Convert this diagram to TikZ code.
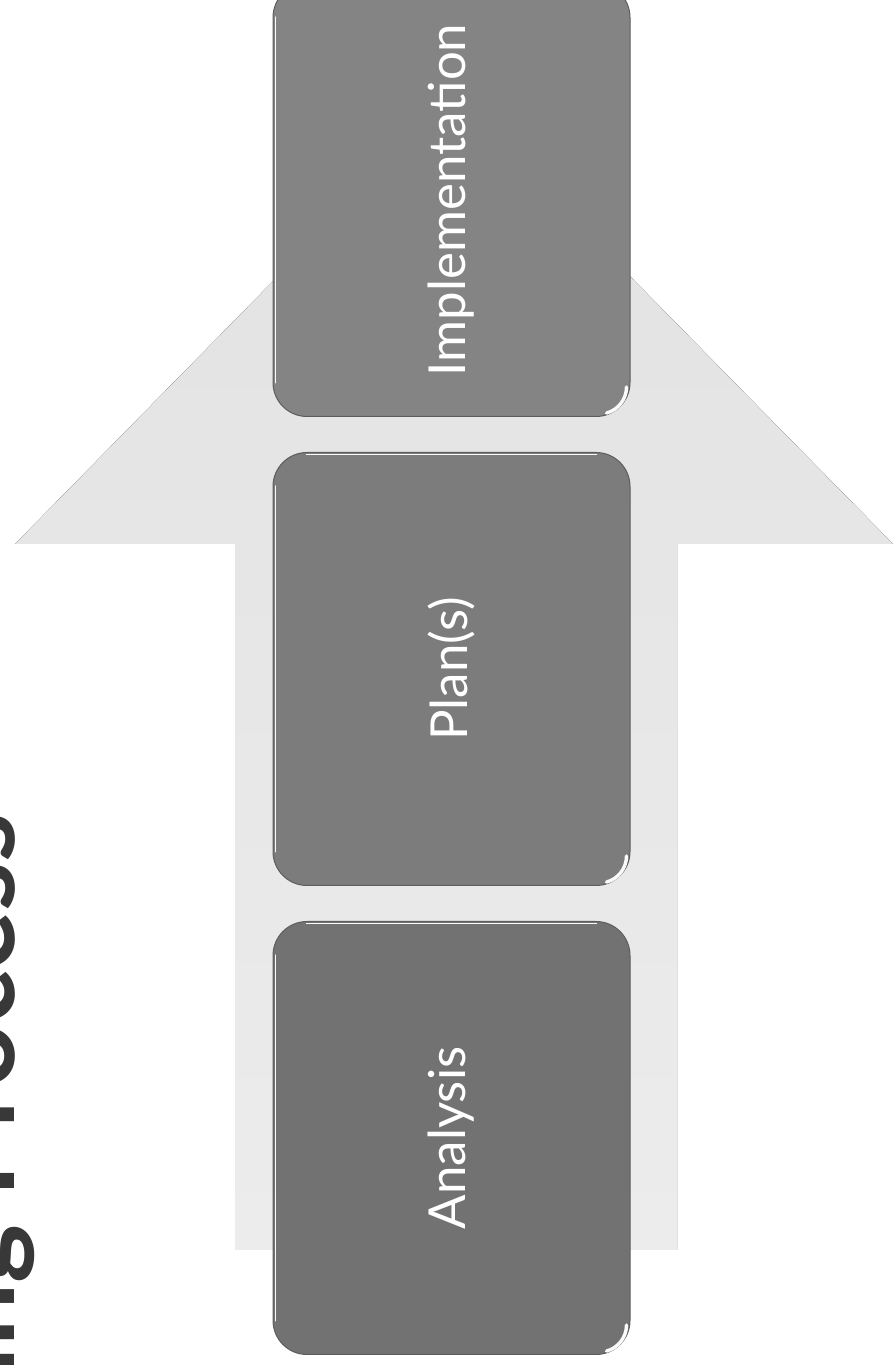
\documentclass[tikz,border=0pt]{standalone}
\usepackage{fontspec}
\setsansfont{Lato}
\usepackage{tikz}
\usetikzlibrary{positioning, calc}
\definecolor{boxgray}{RGB}{124, 124, 124}
\definecolor{arrowtop}{RGB}{226, 226, 226}
\definecolor{arrowbottom}{RGB}{236, 236, 236}
\definecolor{titlegray}{RGB}{56, 56, 56}
\definecolor{shinewhite}{RGB}{250, 250, 250}

\tikzset{
  stage/.style={rectangle, rounded corners=34pt, fill=boxgray,
    draw=boxgray!75!black, line width=1pt,
    minimum width=357pt, minimum height=433pt,
    text=white, font=\sffamily\fontsize{51}{60}\selectfont},
  shine/.style={draw=shinewhite, line width=2.4pt, line cap=round}
}

\begin{document}
\begin{tikzpicture}[x=1pt, y=1pt, node distance=35pt]
\useasboundingbox (0,0) rectangle (896,1365);
\clip (0,0) rectangle (896,1365);

% Heading, running up the left edge
\node[anchor=base east, rotate=90, inner sep=0pt, text=titlegray,
      font=\sffamily\bfseries\fontsize{112}{120}\selectfont] (title)
      at (14,552) {Planning Process};

% Big upward arrow behind the stages
\fill[top color=arrowtop, bottom color=arrowbottom]
  (235,115) -- (235,821) -- (15,821) -- (454,1268)
  -- (893,821) -- (677,821) -- (677,115) -- cycle;

% Stages, bottom to top
\node[stage, fill=boxgray!92!black] (analysis) at (451.5,227)
      {\rotatebox{90}{Analysis}};
\node[stage, above=of analysis] (plan) {\rotatebox{90}{Plan(s)}};
\node[stage, fill=boxgray!94!white, above=of plan] (impl)
      {\rotatebox{90}{Implementation}};

% Bevel highlights on each stage
\foreach \s in {analysis, plan, impl} {
  \draw[shine, line width=3.4pt] ($(\s.south east)+(-4,30)$)
    arc[start angle=0, end angle=-75, radius=27];
  \draw[shine, line width=1.4pt] ($(\s.north west)+(34,-2.5)$)
    -- ($(\s.north east)+(-34,-2.5)$);
  \draw[shine, line width=1pt] ($(\s.north west)+(2.5,-34)$)
    -- ($(\s.south west)+(2.5,34)$);
}

\end{tikzpicture}
\end{document}
